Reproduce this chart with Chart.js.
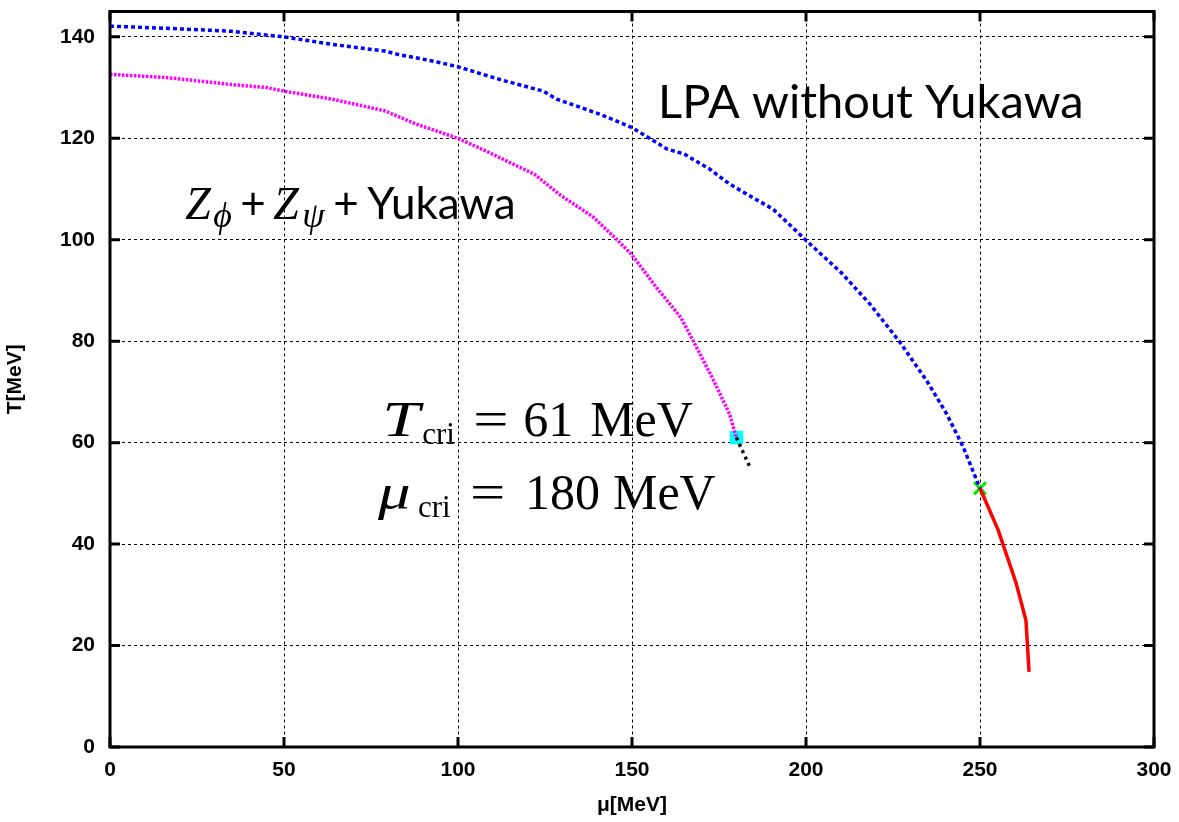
<!DOCTYPE html>
<html>
<head>
<meta charset="utf-8">
<script src="https://cdn.jsdelivr.net/npm/chart.js@4.4.1/dist/chart.umd.min.js"></script>
<style>
  html, body { margin: 0; padding: 0; background: #fff; }
  canvas { display: block; }
</style>
</head>
<body>
<canvas id="chart" width="1179" height="822"></canvas>
<script>
// LPA without Yukawa (blue, dotted)
const muLPA = [0, 16, 35, 43, 50, 64, 79, 83, 93, 100, 112, 124.5, 128.4, 136, 141, 150, 157, 160, 165, 172.4, 178, 183, 190.6, 200, 210, 218.4, 227, 234.7, 240.4, 245.2, 250];
const tLPA  = [142.1, 141.7, 141.1, 140.5, 140.0, 138.5, 137.2, 136.5, 135.2, 134.1, 131.6, 129.3, 127.7, 125.9, 124.7, 122.1, 119.2, 117.9, 116.9, 113.9, 111.0, 109.0, 106.0, 99.9, 93.6, 87.3, 79.8, 72.2, 65.7, 59.1, 51.0];

// Z_phi + Z_psi + Yukawa (magenta, dotted)
const muYuk = [0, 16, 35, 45, 50, 64, 79, 88, 100, 108, 122, 129, 139, 146, 150, 157, 164, 168, 173, 178, 180];
const tYuk  = [132.6, 132.0, 130.6, 130.0, 129.3, 127.7, 125.4, 122.8, 120.0, 117.5, 112.9, 109.0, 104.4, 99.8, 97.0, 90.6, 84.7, 79.5, 72.9, 65.7, 61.0];

// short black dotted continuation past the critical point
const muBlack = [180, 184];
const tBlack  = [61, 55];

// first-order line (red, solid)
const muRed = [250, 255.2, 260.3, 263.2, 264.1];
const tRed  = [51, 42.8, 32.5, 25, 14.8];

// critical points
const cpYuk = [180, 61];
const cpLPA = [250, 51];

const xTicks = [0, 50, 100, 150, 200, 250, 300];
const yTicks = [0, 20, 40, 60, 80, 100, 120, 140];

function pts(xs, ys) {
  return xs.map(function(x, i) { return { x: x, y: ys[i] }; });
}

// draw text pieces, each at offset `at` from the label start
function drawRuns(ctx, x, y, runs) {
  runs.forEach(function(r) {
    ctx.font = r.font;
    ctx.save();
    ctx.translate(x + r.at, y + (r.dy || 0));
    ctx.scale(r.sx || 1, 1);
    ctx.fillText(r.t, 0, 0);
    ctx.restore();
  });
}

const serif = "'Liberation Serif'";
const cm = '50px ' + serif;

const labels = {
  id: 'labels',
  afterDatasetsDraw: function(chart) {
    const ctx = chart.ctx, xs = chart.scales.x, ys = chart.scales.y;
    ctx.save();
    ctx.fillStyle = '#000';
    ctx.textBaseline = 'alphabetic';
    ctx.textAlign = 'left';

    ctx.font = '47px Lato';
    ctx.fillText('LPA without Yukawa', xs.getPixelForValue(157.5), ys.getPixelForValue(124.0));

    drawRuns(ctx, xs.getPixelForValue(21.6), ys.getPixelForValue(104.1), [
      { t: 'Z', font: 'italic 46px ' + serif, at: 0 },
      { t: '\u03D5', font: 'italic 36px ' + serif, at: 28, dy: 8 },
      { t: '+', font: '44px Lato', at: 55 },
      { t: 'Z', font: 'italic 46px ' + serif, at: 88 },
      { t: '\u03C8', font: 'italic 36px ' + serif, at: 117, dy: 8 },
      { t: '+', font: '44px Lato', at: 148 },
      { t: 'Yukawa', font: '44px Lato', at: 182 }
    ]);

    drawRuns(ctx, xs.getPixelForValue(78.2), ys.getPixelForValue(61.4), [
      { t: 'T', font: 'italic ' + cm, at: 0, sx: 1.35 },
      { t: 'cri', font: '31px ' + serif, at: 40, dy: 8 },
      { t: '=', font: cm, at: 91, sx: 1.25 },
      { t: '61', font: cm, at: 141 },
      { t: 'MeV', font: cm, at: 208 }
    ]);
    drawRuns(ctx, xs.getPixelForValue(77), ys.getPixelForValue(47.0), [
      { t: '\u03BC', font: 'italic ' + cm, at: 0, sx: 1.3 },
      { t: 'cri', font: '31px ' + serif, at: 40, dy: 8 },
      { t: '=', font: cm, at: 92, sx: 1.25 },
      { t: '180', font: cm, at: 147 },
      { t: 'MeV', font: cm, at: 235 }
    ]);
    ctx.restore();
  }
};

// gnuplot-style frame with inward ticks on all four sides
const frame = {
  id: 'frame',
  afterDraw: function(chart) {
    const ctx = chart.ctx, a = chart.chartArea;
    const xs = chart.scales.x, ys = chart.scales.y;
    ctx.save();
    ctx.strokeStyle = '#000';
    ctx.lineWidth = 3;
    ctx.strokeRect(a.left, a.top, a.right - a.left, a.bottom - a.top);
    ctx.beginPath();
    xTicks.forEach(function(v) {
      const px = xs.getPixelForValue(v);
      ctx.moveTo(px, a.bottom); ctx.lineTo(px, a.bottom - 10);
      ctx.moveTo(px, a.top); ctx.lineTo(px, a.top + 10);
    });
    yTicks.forEach(function(v) {
      const py = ys.getPixelForValue(v);
      ctx.moveTo(a.left, py); ctx.lineTo(a.left + 10, py);
      ctx.moveTo(a.right, py); ctx.lineTo(a.right - 10, py);
    });
    ctx.stroke();
    ctx.restore();
  }
};

const tickFont = { family: "'Liberation Sans', Arial, sans-serif", size: 21, weight: 'bold' };
const titleFont = { family: "'Liberation Sans', Arial, sans-serif", size: 21, weight: 'bold' };

new Chart(document.getElementById('chart'), {
  type: 'scatter',
  data: {
    datasets: [
      { data: pts(muYuk, tYuk), showLine: true, borderColor: '#ff00ff', borderWidth: 3.5, borderDash: [2.5, 1.5], pointRadius: 0, tension: 0 },
      { data: pts(muLPA, tLPA), showLine: true, borderColor: '#0000ff', borderWidth: 3.5, borderDash: [4, 3], pointRadius: 0, tension: 0 },
      { data: pts(muBlack, tBlack), showLine: true, borderColor: '#000', borderWidth: 3.5, borderDash: [3, 4], pointRadius: 0 },
      { data: pts(muRed, tRed), showLine: true, borderColor: '#ff0000', borderWidth: 3.5, pointRadius: 0, tension: 0 },
      { data: [{ x: cpYuk[0], y: cpYuk[1] }], pointStyle: 'rect', pointRadius: 9.5, backgroundColor: '#00ffff', borderColor: '#00ffff', borderWidth: 0 },
      { data: [{ x: cpLPA[0], y: cpLPA[1] }], pointStyle: 'crossRot', pointRadius: 8.5, borderColor: '#00ee00', borderWidth: 3 }
    ]
  },
  options: {
    responsive: false,
    animation: false,
    events: [],
    layout: { padding: { top: 10, right: 25, left: 0, bottom: 0 } },
    plugins: { legend: { display: false }, tooltip: { enabled: false } },
    scales: {
      x: {
        type: 'linear', min: 0, max: 300,
        afterBuildTicks: function(s) { s.ticks = xTicks.map(function(v) { return { value: v }; }); },
        afterFit: function(s) { s.height = 75; s.paddingLeft = 0; s.paddingRight = 0; },
        ticks: { color: '#000', font: tickFont, padding: 11, maxRotation: 0 },
        grid: { color: '#000', lineWidth: 1, drawTicks: false },
        border: { display: false, dash: [3, 3] },
        title: { display: true, text: '\u03BC[MeV]', color: '#000', font: titleFont, padding: { top: 0, bottom: 4 } }
      },
      y: {
        type: 'linear', min: 0, max: 145,
        afterBuildTicks: function(s) { s.ticks = yTicks.map(function(v) { return { value: v }; }); },
        afterFit: function(s) { s.width = 110; s.paddingTop = 0; s.paddingBottom = 0; },
        ticks: { color: '#000', font: tickFont, padding: 15 },
        grid: { color: '#000', lineWidth: 1, drawTicks: false },
        border: { display: false, dash: [3, 3] },
        title: { display: true, text: 'T[MeV]', color: '#000', font: titleFont, padding: { top: 3, bottom: 0 } }
      }
    }
  },
  plugins: [labels, frame]
});
</script>
</body>
</html>
